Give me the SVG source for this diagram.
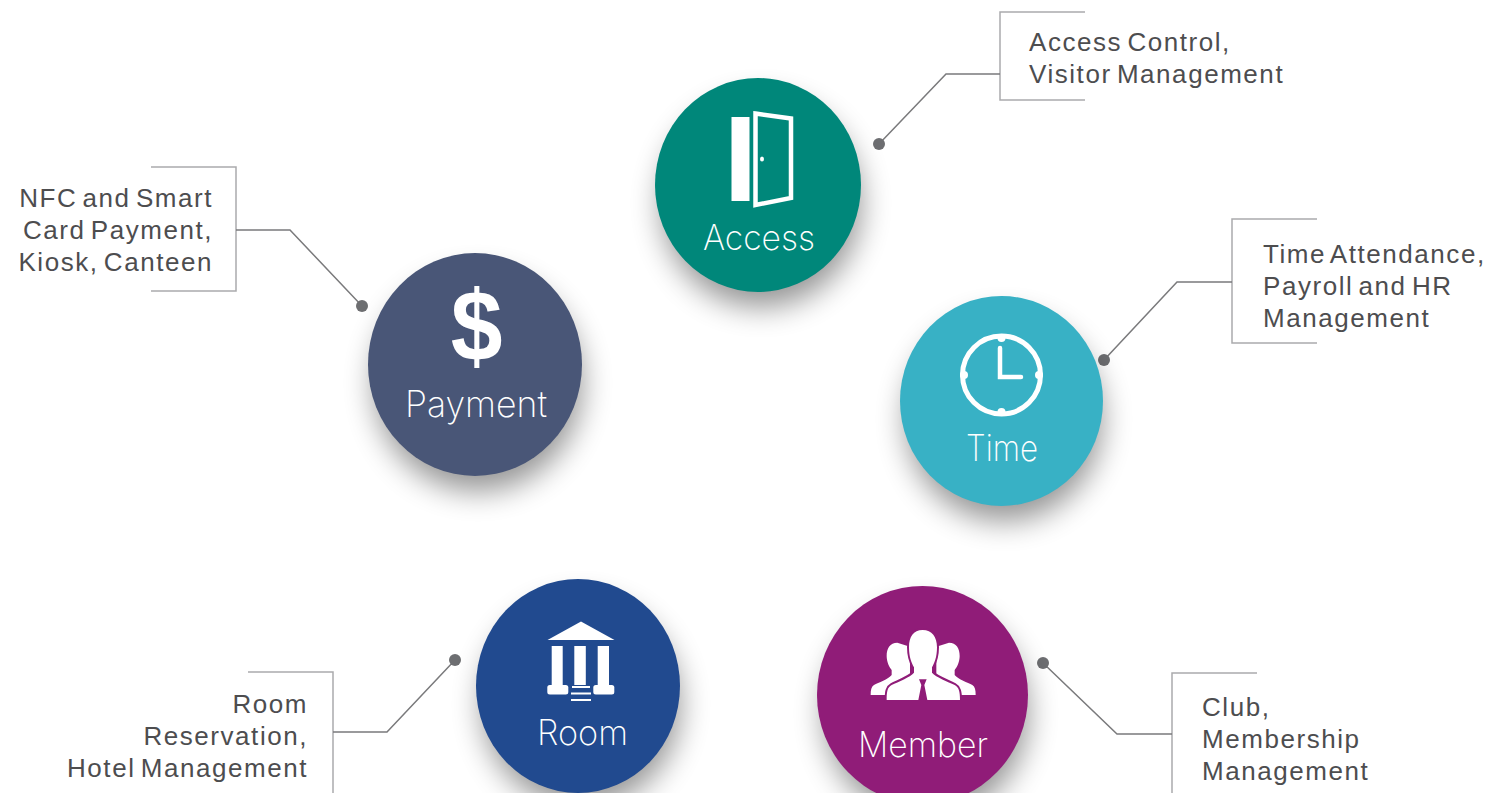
<svg xmlns="http://www.w3.org/2000/svg" width="1488" height="793" viewBox="0 0 1488 793">
<style>
.lbl{font-family:"Liberation Sans",Arial,sans-serif;font-size:26px;fill:#4d4d4f;letter-spacing:1.55px;word-spacing:-3.5px}
.end{text-anchor:end}
.title{font-family:"Inter","Liberation Sans",sans-serif;font-weight:200;font-size:35px;fill:#fff;text-anchor:middle}
.wire{fill:none;stroke:#7a7a7c;stroke-width:1.5}
.frame{fill:none;stroke:#ababad;stroke-width:1.5}
.dot{fill:#6d6e71}
.sh{fill:#000;opacity:.42;filter:url(#blur)}
.w{fill:#fff}
</style>
<defs><filter id="blur" x="-40%" y="-40%" width="180%" height="180%"><feGaussianBlur stdDeviation="15"/></filter></defs>
<rect width="1488" height="793" fill="#fff"/>
<g id="connectors">
<path class="frame" d="M1085 12H1000V100H1085"/><path class="wire" d="M1000 74H946L879 144"/><circle class="dot" cx="879" cy="144" r="6"/>
<path class="frame" d="M151 167H236V291H151"/><path class="wire" d="M236 230H290L362 306"/><circle class="dot" cx="362" cy="306" r="6"/>
<path class="frame" d="M1317 219H1232V343H1317"/><path class="wire" d="M1232 282H1177L1104 360"/><circle class="dot" cx="1104" cy="360" r="6"/>
<path class="frame" d="M248 672H333V793"/><path class="wire" d="M333 732H387L455 660"/><circle class="dot" cx="455" cy="660" r="6"/>
<path class="frame" d="M1257 673H1172V793"/><path class="wire" d="M1172 734H1117L1043 663"/><circle class="dot" cx="1043" cy="663" r="6"/>
</g>
<g id="access">
<ellipse class="sh" cx="761" cy="203" rx="100" ry="104"/>
<ellipse cx="758" cy="185" rx="103" ry="107" fill="#00877a"/>
<rect class="w" x="731.500" y="117" width="18" height="84"/>
<path d="M755.500 113.500L791 118.500V198L755.500 205Z" fill="none" stroke="#fff" stroke-width="4.500"/>
<ellipse class="w" cx="762" cy="159" rx="2" ry="2.500"/>
<text class="title" x="759" y="250" textLength="112" lengthAdjust="spacingAndGlyphs">Access</text>
</g>
<g id="payment">
<ellipse class="sh" cx="478" cy="383" rx="104" ry="108"/>
<ellipse cx="475" cy="364.500" rx="107" ry="111.500" fill="#495677"/>
<text transform="translate(476.500 361) scale(.93 1)" text-anchor="middle" font-family="Liberation Sans, Arial, sans-serif" font-weight="700" font-size="100" fill="#fff">$</text>
<text class="title" x="476" y="417" style="font-size:36px" textLength="142" lengthAdjust="spacingAndGlyphs">Payment</text>
</g>
<g id="time">
<ellipse class="sh" cx="1004" cy="419" rx="98" ry="102"/>
<ellipse cx="1001.500" cy="401" rx="101.500" ry="105" fill="#38b1c5"/>
<circle cx="1001.500" cy="375" r="39" fill="none" stroke="#fff" stroke-width="5"/>
<path d="M1000 348V377H1021" fill="none" stroke="#fff" stroke-width="4.500" stroke-linecap="round"/>
<circle class="w" cx="1001.500" cy="338" r="4"/><circle class="w" cx="1001.500" cy="412" r="4"/><circle class="w" cx="964" cy="375" r="4"/><circle class="w" cx="1039" cy="375" r="4"/>
<text class="title" x="1002" y="461" style="font-size:36px" textLength="72" lengthAdjust="spacingAndGlyphs">Time</text>
</g>
<g id="room">
<ellipse class="sh" cx="581" cy="704" rx="99" ry="103"/>
<ellipse cx="578" cy="686" rx="102" ry="107" fill="#214a8f"/>
<path class="w" d="M547.500 640L581 621.500L614.500 640Z"/>
<rect class="w" x="551.700" y="646" width="11" height="39"/><rect class="w" x="574.300" y="646" width="11.500" height="39"/><rect class="w" x="597.700" y="646" width="11.300" height="39"/>
<rect class="w" x="547.300" y="685" width="21" height="9.500" rx="2.500"/><rect class="w" x="593.300" y="685" width="21" height="9.500" rx="2.500"/>
<path d="M572 687H590M571 693.500H591M571 700H591" stroke="#fff" stroke-width="2" fill="none"/>
<text class="title" x="582.500" y="745" textLength="91" lengthAdjust="spacingAndGlyphs">Room</text>
</g>
<g id="member">
<ellipse class="sh" cx="926" cy="713" rx="102" ry="106"/>
<ellipse cx="922.500" cy="695" rx="105.500" ry="109" fill="#901c78"/>
<g transform="translate(810 570) scale(.33333)" class="w">
<path d="M262 218C240 218 230 235 230 258C230 275 238 292 245 300V315C235 328 205 338 192 345C184 350 182 360 182 375H225L300 330V230Z"/>
<path d="M417 218C439 218 449 235 449 258C449 275 441 292 434 300V315C444 328 474 338 487 345C495 350 497 360 497 375H454L379 330V230Z"/>
<path stroke="#901c78" stroke-width="12" paint-order="stroke" d="M338 180C310 180 297 200 297 232C297 262 305 280 312 292V308C300 322 265 335 245 345C232 352 230 365 230 390H325L334 345L327 328H350L343 345L352 390H450C450 365 447 352 434 345C414 335 378 322 366 308V292C373 280 381 262 381 232C381 200 366 180 338 180Z"/>
</g>
<text class="title" x="923" y="757" textLength="130" lengthAdjust="spacingAndGlyphs">Member</text>
</g>
<g id="note-access"><text class="lbl" x="1029" y="51">Access Control,</text><text class="lbl" x="1029" y="83">Visitor Management</text></g>
<g id="note-payment"><text class="lbl end" x="213" y="207">NFC and Smart</text><text class="lbl end" x="213" y="239">Card Payment,</text><text class="lbl end" x="213" y="271">Kiosk, Canteen</text></g>
<g id="note-time"><text class="lbl" x="1263" y="263">Time Attendance,</text><text class="lbl" x="1263" y="295">Payroll and HR</text><text class="lbl" x="1263" y="327">Management</text></g>
<g id="note-room"><text class="lbl end" x="308" y="713">Room</text><text class="lbl end" x="308" y="745">Reservation,</text><text class="lbl end" x="308" y="777">Hotel Management</text></g>
<g id="note-member"><text class="lbl" x="1202" y="716">Club,</text><text class="lbl" x="1202" y="748">Membership</text><text class="lbl" x="1202" y="780">Management</text></g>
</svg>
